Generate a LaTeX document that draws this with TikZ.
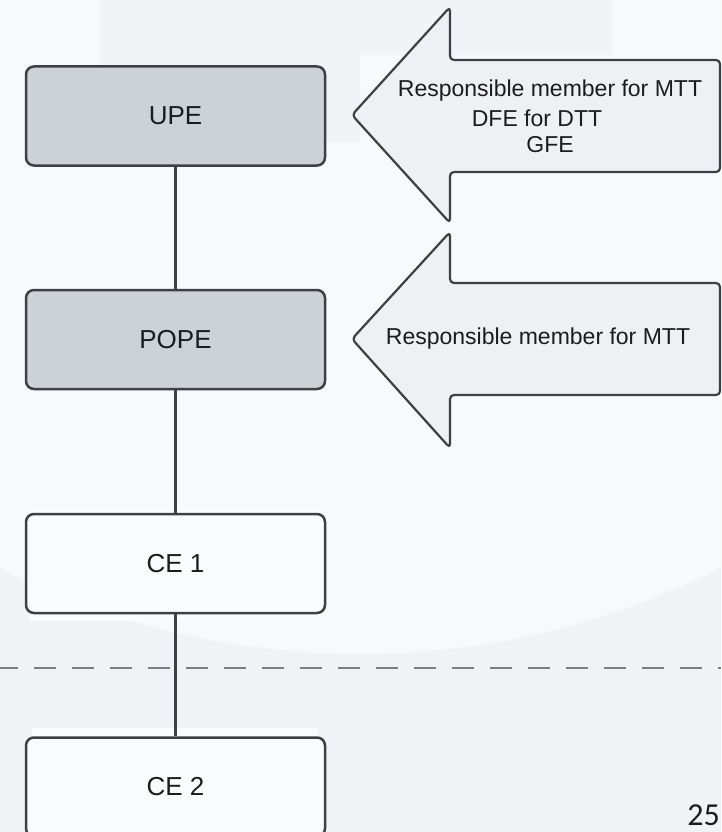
\documentclass[tikz,border=0pt]{standalone}
\usepackage{fontspec}
\setmainfont{Liberation Sans}
\newfontfamily\pagefont{Carlito}
\definecolor{bgdark}{HTML}{F0F2F6}
\definecolor{bglight}{HTML}{F8F9FB}
\definecolor{bgrect}{HTML}{F1F3F6}
\definecolor{halo}{HTML}{FAFBFC}
\definecolor{boxgrey}{HTML}{CDD2D8}
\definecolor{boxwhite}{HTML}{FAFBFC}
\definecolor{arrowfill}{HTML}{EEF0F3}
\definecolor{edge}{HTML}{3D4046}
\definecolor{ink}{HTML}{1B1C1F}
\definecolor{dashcol}{HTML}{7C7E82}
\tikzset{
  entity/.style={draw=edge, line width=2.5pt, rounded corners=8pt,
    minimum width=299pt, minimum height=99pt, inner sep=0pt,
    text=ink, font=\fontsize{26}{30}\selectfont},
  upper/.style={entity, fill=boxgrey},
  lower/.style={entity, fill=boxwhite},
  bigarrow/.style={draw=edge, line width=2.2pt, fill=arrowfill, rounded corners=4pt, line join=round},
  arrowtext/.style={text=ink, font=\fontsize{23}{27}\selectfont, inner sep=0pt},
  link/.style={draw=edge, line width=3pt},
  sepline/.style={draw=dashcol, line width=2.8pt, dash pattern=on 22pt off 16pt, dash phase=4pt}
}
\begin{document}
\begin{tikzpicture}[x=1pt, y=-1pt]
\useasboundingbox (0,0) rectangle (721,832);
% background
\fill[bgdark] (0,0) rectangle (721,832);
\begin{scope}
\clip (0,0) rectangle (721,832);
\fill[bglight] (360,-142) circle (796);
\end{scope}
\fill[bgrect] (100,0) -- (612,0) -- (612,55) -- (360,55) -- (360,142) -- (100,142) -- cycle;
% halos
\fill[halo] (30,506) rectangle (322,621);
\fill[halo] (32,728) rectangle (318,832);
% dashed separator
\coordinate (sepL) at (0,668);
\coordinate (sepR) at (721,668);
\draw[sepline] (sepL) -- (sepR);
% boxes
\node[upper] (upe)  at (175.5,116) {UPE};
\node[upper] (pope) at (175.5,339.5) {POPE};
\node[lower] (ce1)  at (175.5,563.5) {CE 1};
\node[lower] (ce2) at (175.5,787) {CE 2};
% connectors
\draw[link] (upe.south) -- (pope.north);
\draw[link] (pope.south) -- (ce1.north);
\draw[link] (ce1.south) -- (ce2.north);
% arrows
\draw[bigarrow] (352,115) -- (450,7) -- (450,60) -- (720,60) -- (720,172) -- (450,172) -- (450,223) -- cycle;
\draw[bigarrow] (352,339) -- (450,232) -- (450,283) -- (720,283) -- (720,395) -- (450,395) -- (450,448) -- cycle;
\node[arrowtext] (t1a) at (550,91) {Responsible member for MTT};
\node[arrowtext] (t1b) at (537,118) {DFE for DTT};
\node[arrowtext] (t1c) at (550,145) {GFE};
\node[arrowtext] (t2)  at (538,339) {Responsible member for MTT};
% page number
\node[anchor=base east, inner sep=0pt, text=ink, font=\pagefont\fontsize{32}{36}\selectfont] (pg) at (720,825) {25};
\end{tikzpicture}
\end{document}
